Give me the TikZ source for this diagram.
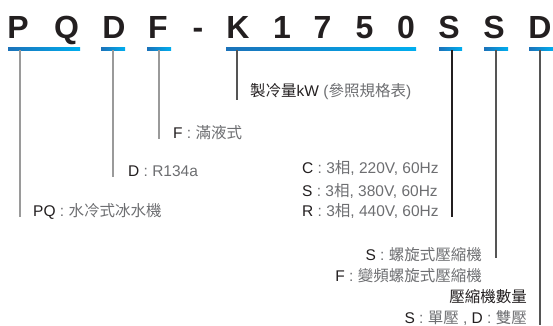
\documentclass[tikz,border=0pt]{standalone}
\usepackage{fontspec}
\setmainfont{Liberation Sans}
\newfontfamily\cjk{Noto Sans CJK TC}
\newcommand{\hz}[1]{{\cjk #1}}
\newcommand{\dk}[1]{\textcolor{ink}{#1}}
\usetikzlibrary{positioning}
\definecolor{ink}{HTML}{231F20}
\definecolor{soft}{HTML}{6D6E71}
\definecolor{barL}{HTML}{1B72B9}
\definecolor{barR}{HTML}{00AEEF}
\definecolor{lgrey}{HTML}{9A9A9A}
\definecolor{mgrey}{HTML}{555555}
\begin{document}
\begin{tikzpicture}[x=1pt, y=-1pt, inner sep=0pt,
code/.style={anchor=base, font=\fontsize{32}{32}\selectfont\bfseries, text=ink},
bar/.style={rectangle, minimum height=3pt, left color=barL, right color=barR},
note/.style={anchor=base west, font=\fontsize{15.5}{18}\selectfont, text=soft},
rnote/.style={note, anchor=base east},
lead/.style={line width=1.2pt}]
\useasboundingbox (0,0) rectangle (553,325);

\node[code] (cP) at (18,38) {P};
\node[code] (cQ) at (66.5,38) {Q};
\node[code] (cD) at (114,38) {D};
\node[code] (cF) at (158,38) {F};
\node[code] (cDash) at (198,38) {-};
\node[code] (cK) at (238,38) {K};
\node[code] (c1) at (282,38) {1};
\node[code] (c7) at (322.5,38) {7};
\node[code] (c5) at (364.5,38) {5};
\node[code] (c0) at (406,38) {0};
\node[code] (cS) at (449,38) {S};
\node[code] (cSS) at (494,38) {S};
\node[code] (cDD) at (540,38) {D};

\node[bar, minimum width=72pt] (barPQ) at (44,48.5) {};
\node[bar, minimum width=24pt] (barD) at (113,48.5) {};
\node[bar, minimum width=24pt] (barF) at (159,48.5) {};
\node[bar, minimum width=190pt] (barK) at (321,48.5) {};
\node[bar, minimum width=23pt] (barS) at (450.5,48.5) {};
\node[bar, minimum width=24pt] (barSS) at (496,48.5) {};
\node[bar, minimum width=24pt] (barDD) at (541,48.5) {};

\coordinate (endPQ) at (20,217);
\coordinate (endD) at (113,177);
\coordinate (endF) at (159,139);
\coordinate (endK) at (237,100);
\coordinate (endS) at (452,217);
\coordinate (endSS) at (496,258);
\coordinate (endDD) at (540,325);

\node[note] (tK) at (250,96) {\dk{\hz{製冷量}kW} (\hz{參照規格表})};
\node[note] (tF) at (173,138) {\dk{F} : \hz{滿液式}};
\node[note] (tD) at (128,176) {\dk{D} : R134a};
\node[note] (tPQ) at (33,216) {\dk{PQ} : \hz{水冷式冰水機}};
\node[note] (tC) at (302,173) {\dk{C} : 3\hz{相}, 220V, 60Hz};
\node[note] (tS) at (302,196.5) {\dk{S} : 3\hz{相}, 380V, 60Hz};
\node[note] (tR) at (302,216.5) {\dk{R} : 3\hz{相}, 440V, 60Hz};
\node[rnote] (tSc) at (482,260) {\dk{S} : \hz{螺旋式壓縮機}};
\node[rnote] (tFc) at (482,281) {\dk{F} : \hz{變頻螺旋式壓縮機}};
\node[rnote] (tN) at (527,302) {\dk{\hz{壓縮機數量}}};
\node[rnote] (tSD) at (527,323) {\dk{S} : \hz{單壓} , \dk{D} : \hz{雙壓}};

\path[lead]
(barPQ.south -| endPQ) edge[lgrey] (endPQ)
(barD.south -| endD) edge[lgrey] (endD)
(barF.south -| endF) edge[lgrey] (endF)
(barK.south -| endK) edge[mgrey] (endK)
(barS.south -| endS) edge[ink] (endS)
(barSS.south -| endSS) edge[mgrey] (endSS)
(barDD.south -| endDD) edge[mgrey] (endDD);
\end{tikzpicture}
\end{document}
